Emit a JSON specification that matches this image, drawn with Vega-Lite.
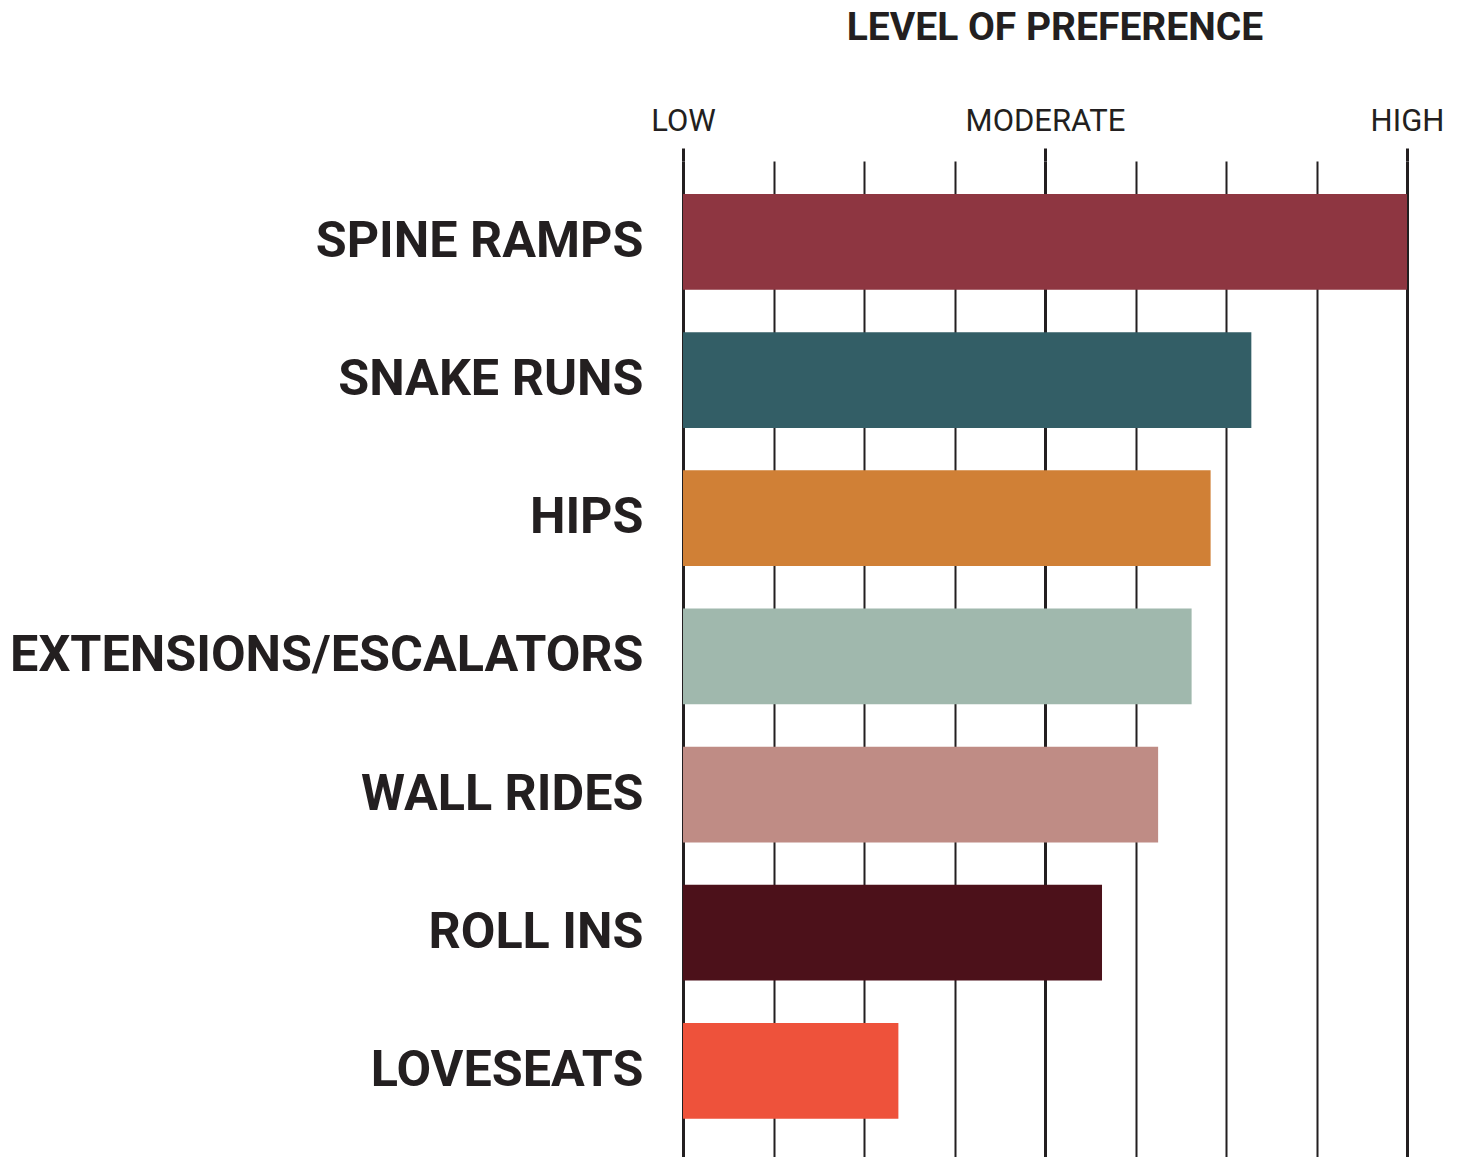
{
  "$schema": "https://vega.github.io/schema/vega-lite/v6.json",
  "autosize": {"type": "none"},
  "padding": {"left": 683, "top": 161, "right": 58, "bottom": 0},
  "width": 724,
  "height": 996,
  "background": "white",
  "config": {"view": {"stroke": null}},
  "title": {
    "text": "LEVEL OF PREFERENCE",
    "font": "Roboto",
    "fontSize": 39,
    "fontWeight": "bold",
    "color": "#231F20",
    "anchor": "middle",
    "dx": 10,
    "offset": 57
  },
  "data": {
    "values": [
      {"feature": "SPINE RAMPS", "preference": 8.0},
      {"feature": "SNAKE RUNS", "preference": 6.28},
      {"feature": "HIPS", "preference": 5.83},
      {"feature": "EXTENSIONS/ESCALATORS", "preference": 5.62},
      {"feature": "WALL RIDES", "preference": 5.25},
      {"feature": "ROLL INS", "preference": 4.63},
      {"feature": "LOVESEATS", "preference": 2.38}
    ]
  },
  "mark": {"type": "bar"},
  "encoding": {
    "y": {
      "field": "feature",
      "type": "nominal",
      "sort": null,
      "scale": {"paddingInner": 0.307, "paddingOuter": 0.2577, "align": 0.463},
      "axis": {
        "title": null,
        "domain": false,
        "ticks": false,
        "grid": false,
        "labelFont": "Roboto",
        "labelFontSize": 50.3,
        "labelFontWeight": "bold",
        "labelColor": "#231F20",
        "labelPadding": 40,
        "labelLimit": 1000
      }
    },
    "x": {
      "field": "preference",
      "type": "quantitative",
      "scale": {"domain": [0, 8], "nice": false, "zero": true},
      "axis": {
        "orient": "top",
        "title": null,
        "values": [0, 1, 2, 3, 4, 5, 6, 7, 8],
        "labelExpr": "datum.value === 0 ? 'LOW' : datum.value === 4 ? 'MODERATE' : datum.value === 8 ? 'HIGH' : ''",
        "domain": false,
        "grid": true,
        "gridColor": "#231F20",
        "gridOpacity": 1,
        "gridWidth": {"condition": {"test": "datum.value % 4 === 0", "value": 3}, "value": 2},
        "ticks": true,
        "tickSize": 13,
        "tickColor": "#231F20",
        "tickWidth": 3,
        "tickOpacity": {"condition": {"test": "datum.value % 4 === 0", "value": 1}, "value": 0},
        "labelFont": "Roboto",
        "labelFontSize": 31,
        "labelColor": "#231F20",
        "labelBaseline": "alphabetic",
        "labelPadding": 18,
        "labelLimit": 500,
        "labelFlush": false,
        "labelOverlap": false,
        "labelBound": false
      }
    },
    "color": {
      "field": "feature",
      "type": "nominal",
      "legend": null,
      "scale": {
        "domain": ["SPINE RAMPS", "SNAKE RUNS", "HIPS", "EXTENSIONS/ESCALATORS", "WALL RIDES", "ROLL INS", "LOVESEATS"],
        "range": ["#8E3641", "#335E66", "#D08036", "#A0B8AD", "#BF8C85", "#4C111A", "#EE523B"]
      }
    }
  }
}
